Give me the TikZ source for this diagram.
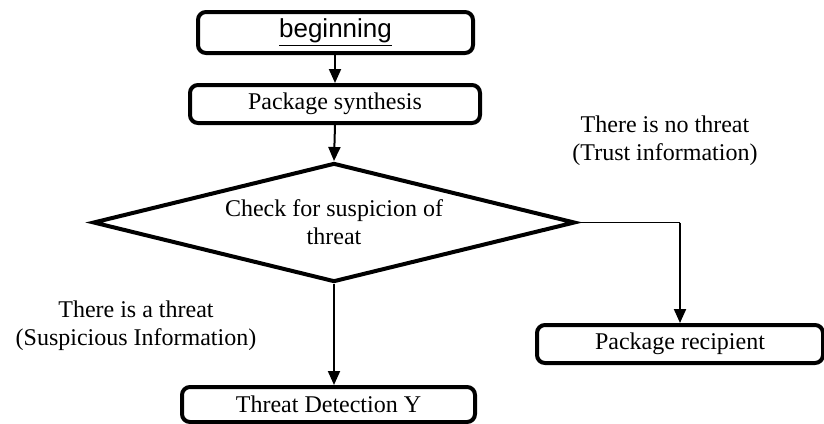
\documentclass[tikz,border=0pt]{standalone}
\usepackage{fontspec}
\setmainfont{Liberation Serif}
\newfontfamily\arialfont{Liberation Sans}
\usetikzlibrary{shapes.geometric,arrows.meta}

\begin{document}
\begin{tikzpicture}[x=0.5pt,y=-0.5pt,font=\fontsize{12}{14}\selectfont]
\useasboundingbox (0,0) rectangle (824,423);
		\begin{scope}[every node/.style={rectangle,rounded corners=4pt,line width=2pt,draw,inner sep=0pt}]
			\node[minimum width=137.5pt,minimum height=20.5pt,font=\arialfont\fontsize{13}{15}\selectfont] (1) at (335.5,32.5) {\underline{beginning}};
			\node[minimum width=145pt,minimum height=19pt] (2) at (335,104) {Package synthesis};
			\node[minimum width=143pt,minimum height=19pt] (4) at (680,344) {Package recipient};
			\node[minimum width=146.5pt,minimum height=17.5pt] (5) at (328.5,404.5) {Threat Detection Y};
		\end{scope}

		\node[diamond,draw,line width=2pt,inner sep=0pt,aspect=4,minimum width=241pt,minimum height=59.5pt,align=center] (3) at (334,222.5) {Check for suspicion of\\threat};

		\node[align=center] (6) at (665,141) {There is no threat\\(Trust information)};
		\node[align=center] (7) at (136,326) {There is a threat\\(Suspicious Information)};

		\coordinate (c) at (3.east -| 4.north);

	\begin{scope}[>={Triangle[length=7pt,width=6pt]},
              every edge/.style={draw=black,line width=1pt,->}]

  \path (1.south -| 2.north) edge (2.north);
	\path (2.south) edge (3.north);
	\path (3.south) edge (3.south |- 5.north);
	\draw[line width=0.7pt] (3.east) -- (c);
	\path (c) edge (4.north);

\end{scope}
\end{tikzpicture}
\end{document}
